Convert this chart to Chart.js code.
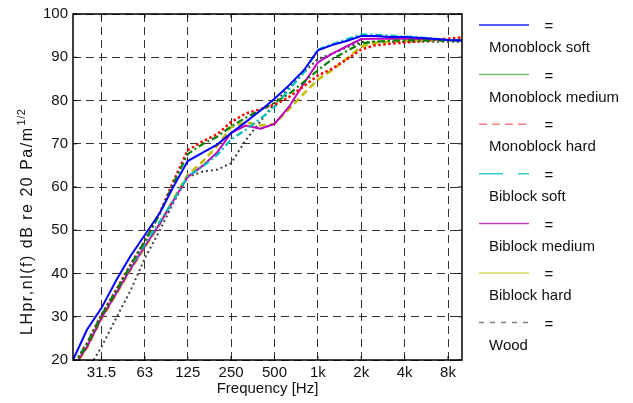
<!DOCTYPE html>
<html>
<head>
<meta charset="utf-8">
<script src="https://cdn.jsdelivr.net/npm/chart.js@4.4.1/dist/chart.umd.min.js"></script>
<style>
  html, body { margin: 0; padding: 0; background: #fff; }
</style>
</head>
<body>
<canvas id="chart" width="633" height="403"></canvas>
<script>
// 1/3-octave band centre frequencies (Hz)
const freqs = [20, 25, 31.5, 40, 50, 63, 80, 100, 125, 160, 200, 250, 315, 400, 500, 630, 800, 1000, 1250, 1600, 2000, 2500, 3150, 4000, 5000, 6300, 8000, 10000];

const tickFreqs = [31.5, 63, 125, 250, 500, 1000, 2000, 4000, 8000];
const tickLabels = ['31.5', '63', '125', '250', '500', '1k', '2k', '4k', '8k'];
const yTicks = [20, 30, 40, 50, 60, 70, 80, 90, 100];

const seriesNames = ['Monoblock soft', 'Monoblock medium', 'Monoblock hard', 'Biblock soft', 'Biblock medium', 'Biblock hard', 'Wood'];

const monoSoft   = [20.0, 27.0, 32.0, 38.5, 44.0, 48.9, 54.0, 60.2, 66.0, 68.0, 69.8, 72.5, 75.0, 77.7, 80.4, 83.5, 87.0, 91.6, 92.8, 93.8, 94.9, 94.9, 94.7, 94.7, 94.5, 94.3, 94.0, 93.9];
const monoMedium = [18.5, 23.5, 30.2, 36.0, 41.8, 47.5, 53.8, 61.0, 67.6, 70.0, 71.6, 74.0, 76.0, 77.8, 79.5, 81.5, 84.3, 87.0, 89.5, 91.5, 93.2, 93.6, 93.8, 93.9, 93.9, 93.9, 93.9, 93.9];
const monoHard   = [18.5, 23.8, 30.4, 36.3, 42.0, 47.5, 54.0, 61.5, 68.5, 70.6, 72.2, 75.0, 77.0, 78.0, 79.0, 80.8, 83.3, 85.8, 87.3, 89.6, 91.8, 92.8, 93.1, 93.4, 93.7, 94.0, 94.3, 94.6];
const biSoft     = [18.8, 24.0, 30.5, 36.2, 41.5, 46.8, 52.0, 57.0, 62.5, 64.8, 67.4, 71.0, 73.2, 75.8, 78.5, 82.5, 86.5, 91.8, 93.0, 94.2, 95.3, 95.2, 95.0, 94.8, 94.6, 94.3, 94.0, 93.8];
const biMedium   = [18.2, 23.0, 29.7, 35.5, 41.0, 46.3, 51.5, 57.0, 62.3, 65.0, 68.0, 72.5, 74.2, 73.5, 74.6, 78.5, 84.0, 88.8, 90.8, 92.6, 94.2, 94.3, 94.3, 94.3, 94.2, 94.1, 94.0, 93.9];
const biHard     = [18.0, 22.8, 29.5, 35.3, 40.8, 46.0, 51.5, 57.3, 62.8, 66.0, 69.5, 73.8, 75.0, 74.2, 74.6, 78.0, 81.6, 84.8, 87.0, 89.8, 92.5, 93.3, 93.6, 93.9, 93.9, 93.9, 93.9, 93.9];
const wood       = [13.5, 17.5, 23.0, 29.8, 36.0, 43.5, 50.0, 56.5, 62.3, 63.6, 64.0, 65.5, 70.8, 75.2, 79.4, 83.0, 86.5, 89.6, 90.8, 92.3, 93.5, 93.6, 93.6, 93.6, 93.6, 93.6, 93.6, 93.6];

const seriesValues = [monoSoft, monoMedium, monoHard, biSoft, biMedium, biHard, wood];

// line looks in the plot
const lineColors = ['#0000ff', '#008000', '#ff0000', '#00bfbf', '#bf00bf', '#bfbf00', '#404040'];
const lineDashes = [[], [7, 3, 2, 3], [2.5, 2.5], [7, 3, 2, 3], [], [7, 4], [2, 3]];
const lineWidths = [2, 2.2, 2.5, 2.2, 2, 2.5, 2];

// the legend samples are drawn differently from the plotted lines
const legendColors = ['#2020ff', '#70c070', '#ff8080', '#30d0d0', '#c040c0', '#d8d860', '#808080'];
const legendDashes = [[], [], [8, 5], [24, 15], [], [], [5, 6]];

const FONT = '"Liberation Sans", Arial, Helvetica, sans-serif';
Chart.defaults.font.family = FONT;
Chart.defaults.font.size = 15;
Chart.defaults.color = '#111';

const datasets = seriesNames.map((name, i) => ({
    label: name,
    data: freqs.map((f, j) => ({ x: f, y: seriesValues[i][j] })),
    borderColor: lineColors[i],
    backgroundColor: lineColors[i],
    borderDash: lineDashes[i],
    borderWidth: lineWidths[i],
    borderCapStyle: 'butt',
    pointRadius: 0,
    tension: 0,
    fill: false
}));

const decorations = {
    id: 'decorations',
    afterDraw(chart) {
        const ctx = chart.ctx;
        const a = chart.chartArea;
        const xs = chart.scales.x;
        const ys = chart.scales.y;
        ctx.save();

        // frame + inward ticks
        ctx.strokeStyle = '#000';
        ctx.lineWidth = 1.5;
        ctx.setLineDash([]);
        ctx.strokeRect(a.left, a.top, a.right - a.left, a.bottom - a.top);
        ctx.lineWidth = 1;
        ctx.beginPath();
        tickFreqs.forEach(f => {
            const px = xs.getPixelForValue(f);
            ctx.moveTo(px, a.bottom); ctx.lineTo(px, a.bottom - 4);
            ctx.moveTo(px, a.top); ctx.lineTo(px, a.top + 4);
        });
        yTicks.forEach(v => {
            const py = ys.getPixelForValue(v);
            ctx.moveTo(a.left, py); ctx.lineTo(a.left + 4, py);
            ctx.moveTo(a.right, py); ctx.lineTo(a.right - 4, py);
        });
        ctx.stroke();

        // x title
        ctx.fillStyle = '#111';
        ctx.font = '15px ' + FONT;
        ctx.textAlign = 'center';
        ctx.textBaseline = 'middle';
        ctx.fillText('Frequency [Hz]', (a.left + a.right) / 2, 389);

        // y title with superscript
        ctx.save();
        ctx.translate(28, 335);
        ctx.rotate(-Math.PI / 2);
        ctx.textAlign = 'left';
        ctx.textBaseline = 'middle';
        ctx.font = '16px ' + FONT;
        if ('letterSpacing' in ctx) ctx.letterSpacing = '1.5px';
        const main = 'LHpr,nl(f) dB re 20 Pa/m';
        ctx.fillText(main, 0, 0);
        const w = ctx.measureText(main).width;
        ctx.font = '11px ' + FONT;
        if ('letterSpacing' in ctx) ctx.letterSpacing = '0.5px';
        ctx.fillText('1/2', w + 1, -6);
        ctx.restore();

        // legend
        seriesNames.forEach((name, i) => {
            const y0 = 25 + i * 49.6;
            ctx.strokeStyle = legendColors[i];
            ctx.lineWidth = 1.5;
            ctx.setLineDash(legendDashes[i]);
            ctx.beginPath();
            ctx.moveTo(479, y0);
            ctx.lineTo(529, y0);
            ctx.stroke();
            ctx.setLineDash([]);
            ctx.fillStyle = '#111';
            ctx.font = '15px ' + FONT;
            ctx.textBaseline = 'middle';
            ctx.textAlign = 'center';
            ctx.fillText('=', 549, y0 + 2);
            ctx.textAlign = 'left';
            ctx.fillText(name, 489, y0 + 23);
        });
        ctx.restore();
    }
};

new Chart(document.getElementById('chart'), {
    type: 'line',
    data: { datasets: datasets },
    options: {
        responsive: false,
        animation: false,
        layout: { padding: { top: 13, right: 171, left: 0, bottom: 0 } },
        plugins: { legend: { display: false }, tooltip: { enabled: false } },
        scales: {
            x: {
                type: 'logarithmic',
                min: 20,
                max: 10000,
                afterBuildTicks: (axis) => { axis.ticks = tickFreqs.map(v => ({ value: v })); },
                afterFit: (s) => { s.height = 43; },
                ticks: {
                    autoSkip: false,
                    maxRotation: 0,
                    padding: 4,
                    color: '#111',
                    callback: (value) => {
                        const k = tickFreqs.indexOf(value);
                        return k >= 0 ? tickLabels[k] : '';
                    }
                },
                grid: { color: 'rgba(0,0,0,0.8)', lineWidth: 1, drawTicks: false },
                border: { display: false, dash: [8, 5] }
            },
            y: {
                type: 'linear',
                min: 20,
                max: 100,
                afterBuildTicks: (axis) => { axis.ticks = yTicks.map(v => ({ value: v })); },
                afterFit: (s) => { s.width = 73; },
                ticks: { padding: 5, color: '#111' },
                grid: { color: 'rgba(0,0,0,0.8)', lineWidth: 1, drawTicks: false },
                border: { display: false, dash: [8, 5] }
            }
        }
    },
    plugins: [decorations]
});
</script>
</body>
</html>
